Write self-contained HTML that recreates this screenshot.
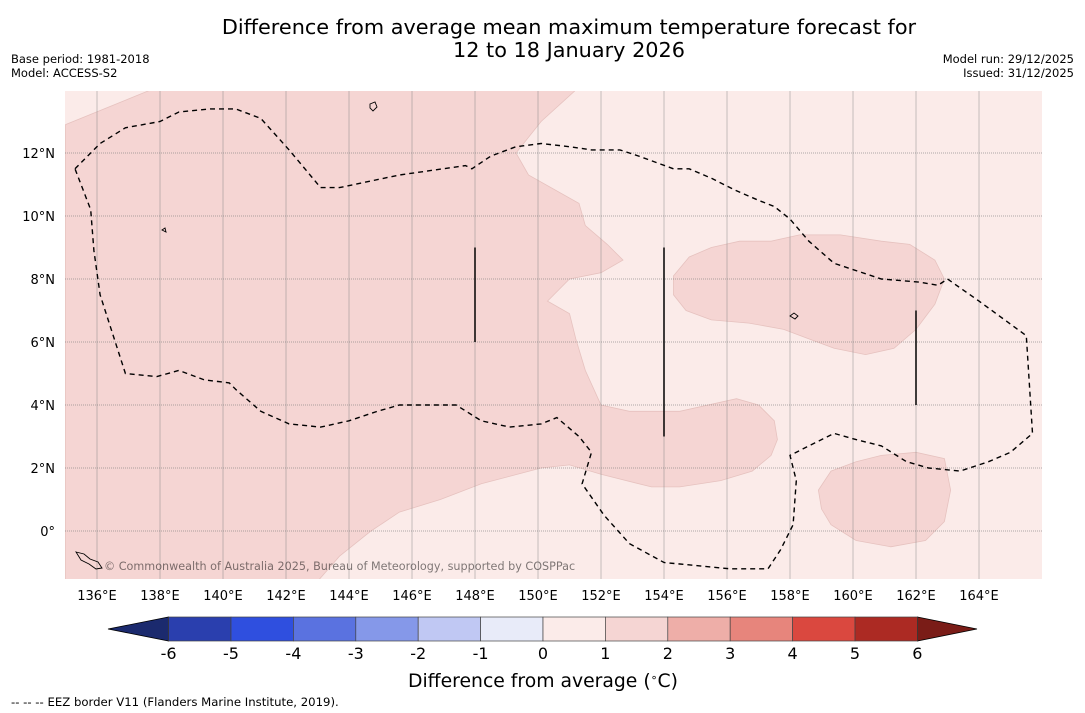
<!DOCTYPE html>
<html><head><meta charset="utf-8"><style>
html,body{margin:0;padding:0;background:#fff;width:1085px;height:713px;overflow:hidden}
svg{display:block;font-family:"DejaVu Sans","Liberation Sans",sans-serif}
</style></head><body>
<svg id="chart" width="1085" height="713" viewBox="0 0 1085 713">
<text x="569" y="34" font-size="20.8" text-anchor="middle" fill="#000">Difference from average mean maximum temperature forecast for</text>
<text x="569" y="57" font-size="20.8" text-anchor="middle" fill="#000">12 to 18 January 2026</text>
<text x="11" y="63" font-size="11.5" fill="#000">Base period: 1981-2018</text>
<text x="11" y="77" font-size="11.5" fill="#000">Model: ACCESS-S2</text>
<text x="1074" y="63" font-size="11.5" text-anchor="end" fill="#000">Model run: 29/12/2025</text>
<text x="1074" y="77" font-size="11.5" text-anchor="end" fill="#000">Issued: 31/12/2025</text>
<defs><clipPath id="mapclip"><rect x="65" y="91" width="977" height="488"/></clipPath></defs>
<g id="map" clip-path="url(#mapclip)"></g>
<g id="axes"></g>
<g id="cbar"></g>
<text x="543" y="687" font-size="18.8" text-anchor="middle" fill="#000">Difference from average (<tspan font-size="11" dy="-6">∘</tspan><tspan dy="6">C)</tspan></text>
<text x="11" y="706" font-size="11.7" fill="#000">--  --  -- EEZ border V11 (Flanders Marine Institute, 2019).</text>
</svg>
<script>
const lonTicks = [136,138,140,142,144,146,148,150,152,154,156,158,160,162,164];
const latTicks = [0,2,4,6,8,10,12];
const regionA = [[135,12.9],[137.7,14],[151.2,14],[150.1,13.0],[149.3,12.0],[149.7,11.3],[151.3,10.4],[151.5,9.7],[152.2,9.1],[152.7,8.6],[152.0,8.2],[151.0,8.0],[150.3,7.3],[151.0,6.9],[151.2,6.1],[151.5,5.1],[152.0,4.0],[152.9,3.8],[154.5,3.8],[156.3,4.2],[157.0,4.0],[157.5,3.5],[157.6,2.9],[157.4,2.4],[156.8,1.9],[155.8,1.6],[154.5,1.4],[153.6,1.4],[152.0,1.8],[151.0,2.1],[150.1,2.0],[148.2,1.5],[146.9,1.0],[145.6,0.6],[144.7,0.0],[143.7,-0.8],[143.0,-1.6],[135,-1.6]];
const regionB = [[154.3,8.1],[154.8,8.7],[155.5,9.0],[156.4,9.2],[157.4,9.2],[158.3,9.4],[159.6,9.4],[160.9,9.2],[161.8,9.1],[162.6,8.6],[162.9,8.0],[162.6,7.2],[162.0,6.4],[161.3,5.8],[160.4,5.6],[159.4,5.8],[158.6,6.1],[157.8,6.4],[156.7,6.6],[155.5,6.7],[154.7,7.0],[154.3,7.5]];
const regionC = [[158.9,1.3],[159.3,1.9],[160.1,2.2],[160.9,2.4],[162.0,2.5],[162.9,2.3],[163.1,1.3],[162.9,0.3],[162.3,-0.3],[161.2,-0.5],[160.1,-0.3],[159.3,0.2],[159.0,0.7]];
const eezBorder = [[135.3,11.5],[136.1,12.3],[136.9,12.8],[138.0,13.0],[138.6,13.3],[139.6,13.4],[140.4,13.4],[141.2,13.1],[142.1,12.1],[143.1,10.9],[143.7,10.9],[145.6,11.3],[147.7,11.6],[147.9,11.5],[148.5,11.9],[149.3,12.2],[150.1,12.3],[151.0,12.2],[151.7,12.1],[152.6,12.1],[153.2,11.9],[154.3,11.5],[154.8,11.5],[155.5,11.2],[156.3,10.8],[157.0,10.5],[157.5,10.3],[158.0,9.9],[158.6,9.2],[159.4,8.5],[160.9,8.0],[162.1,7.9],[162.7,7.8],[163.0,8.0],[164.0,7.3],[165.5,6.2],[165.7,3.1],[165.0,2.5],[164.3,2.2],[163.4,1.9],[162.4,2.0],[161.7,2.2],[160.9,2.7],[160.1,2.9],[159.4,3.1],[158.6,2.7],[158.0,2.4],[158.2,1.6],[158.1,0.2],[157.7,-0.6],[157.3,-1.2],[156.1,-1.2],[154.0,-1.0],[152.9,-0.4],[152.1,0.5],[151.4,1.5],[151.7,2.5],[151.3,3.0],[150.6,3.6],[150.1,3.4],[149.1,3.3],[148.2,3.5],[147.4,4.0],[145.6,4.0],[144.9,3.8],[144.0,3.5],[143.1,3.3],[142.1,3.4],[141.2,3.8],[140.4,4.5],[140.2,4.7],[139.4,4.8],[138.6,5.1],[137.9,4.9],[136.9,5.0],[136.1,7.5],[135.9,8.9],[135.8,10.2],[135.3,11.5]];
const segLons = [148,154,162];
const segLat0 = [6,3,4];
const segLat1 = [9,9,7];
const cbarTicks = [-6,-5,-4,-3,-2,-1,0,1,2,3,4,5,6];
const cbarColors = ['#2a3fae','#2f4fdf','#5a72e0','#8598e9','#c0c8f3','#e8ebf9','#fbebe9','#f5d5d3','#eeaea8','#e7857c','#da483f','#ac2a23'];
const cbarUnder = '#1b2a6e';
const cbarOver = '#7a1c17';

const NS='http://www.w3.org/2000/svg';
function lonX(l){return 97+(l-136)*31.5;}
function latY(l){return 531-l*31.5;}
function vx(v){return 543+v*62.4;}
function mk(tag,attrs,parent){const e=document.createElementNS(NS,tag);for(const k in attrs)e.setAttribute(k,attrs[k]);parent.appendChild(e);return e;}
function pts(a){return a.map(p=>lonX(p[0]).toFixed(1)+','+latY(p[1]).toFixed(1)).join(' ');}
const map=document.getElementById('map'), axes=document.getElementById('axes'), cbar=document.getElementById('cbar');
let bg=mk('rect',{x:65,y:91,width:977,height:488,fill:'#fbebe9'},map);


[[regionA,'anomaly-region-west'],[regionB,'anomaly-region-east'],[regionC,'anomaly-region-southeast']].forEach(([r,n])=>{
  const p=mk('polygon',{points:pts(r),fill:'#f5d5d3',stroke:'#e6c2bf','stroke-width':0.8},map);
  
  
});
lonTicks.forEach(l=>{
  const g=mk('line',{x1:lonX(l),x2:lonX(l),y1:91,y2:579,stroke:'#8a8a8a','stroke-width':0.7,'stroke-opacity':0.7},map);
  
  
  const t=mk('text',{x:lonX(l),y:600,'font-size':13,'text-anchor':'middle',fill:'#000'},axes);
  t.textContent=l+'°E';
  
  
});
latTicks.forEach(l=>{
  const g=mk('line',{x1:65,x2:1042,y1:latY(l),y2:latY(l),stroke:'#7a7a7a','stroke-width':0.8,'stroke-dasharray':'1,1','stroke-opacity':0.8},map);
  
  
  const t=mk('text',{x:55,y:latY(l)+5,'font-size':13,'text-anchor':'end',fill:'#000'},axes);
  t.textContent=l===0?'0°':l+'°N';
  
  
});
let eez=mk('polyline',{points:pts(eezBorder),fill:'none',stroke:'#000','stroke-width':1.4,'stroke-dasharray':'5,4'},map);


segLons.forEach((l,i)=>{
  const s=mk('line',{x1:lonX(l),x2:lonX(l),y1:latY(segLat1[i]),y2:latY(segLat0[i]),stroke:'#000','stroke-width':1.5},map);
  
  
});
let isl=mk('path',{d:'M76,552 l8,2 l6,5 l8,3 l4,6 l-6,1 l-7,-5 l-8,-4 z M370,104 l5,-2 l2,5 l-4,4 l-3,-3 z M162,230 l3,-2 l1,4 z M790,316 l4,-3 l4,3 l-3,3 z',fill:'none',stroke:'#000','stroke-width':0.9},map);


let cr=mk('text',{x:104,y:570,'font-size':11.2,fill:'#000','fill-opacity':0.5},map);
cr.textContent='© Commonwealth of Australia 2025, Bureau of Meteorology, supported by COSPPac';


let ut=mk('polygon',{points:`108,629 ${vx(-6)},617 ${vx(-6)},641`,fill:cbarUnder,stroke:'#000','stroke-width':0.8},cbar);


let ot=mk('polygon',{points:`${vx(6)},617 977,629 ${vx(6)},641`,fill:cbarOver,stroke:'#000','stroke-width':0.8},cbar);


cbarColors.forEach((c,i)=>{
  const r=mk('rect',{x:vx(cbarTicks[i]),y:617,width:vx(cbarTicks[i+1])-vx(cbarTicks[i]),height:24,fill:c,stroke:'#444','stroke-width':0.7},cbar);
  
  
});
cbarTicks.forEach(v=>{
  const t=mk('text',{x:vx(v),y:659,'font-size':16,'text-anchor':'middle',fill:'#000'},cbar);
  t.textContent=v;
  
  
});
</script>
</body></html>
